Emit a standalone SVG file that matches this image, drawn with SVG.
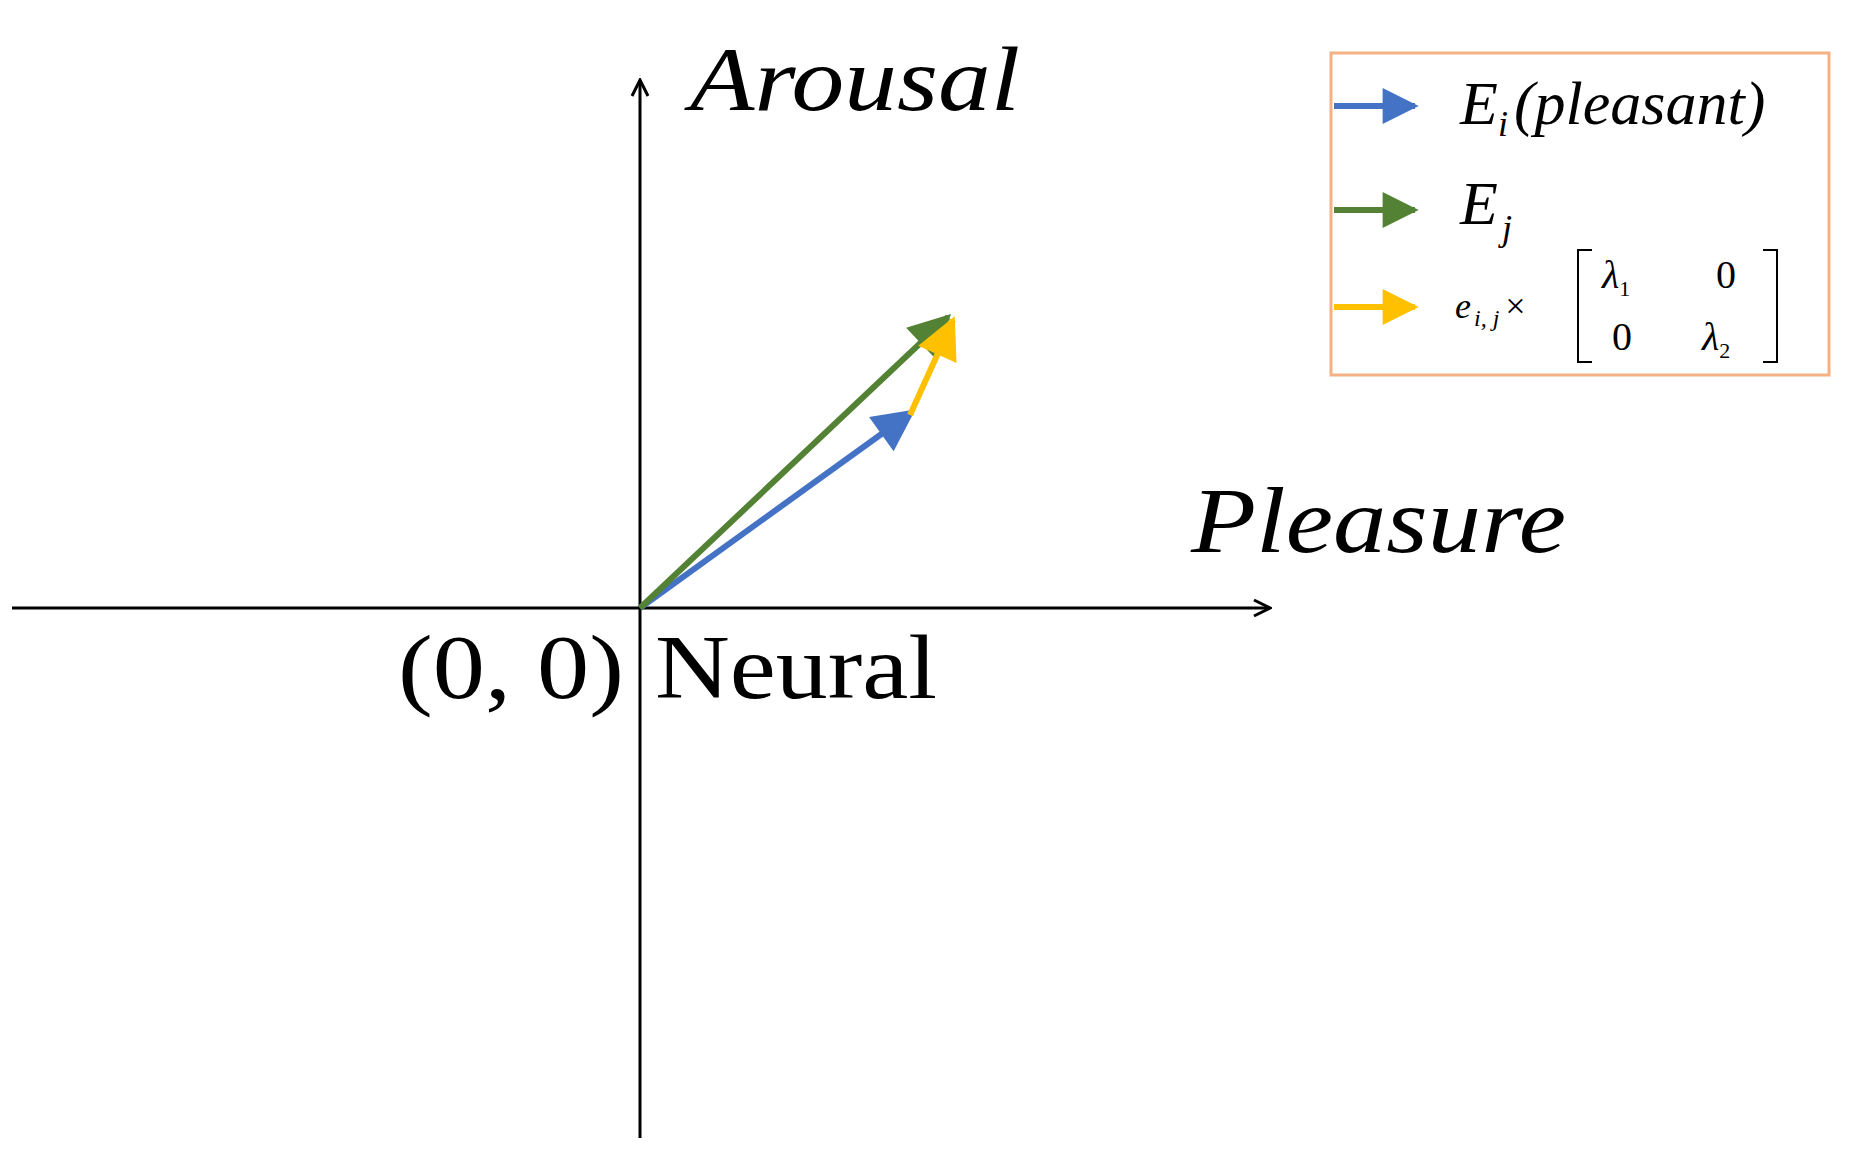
<svg xmlns="http://www.w3.org/2000/svg" width="1849" height="1160" viewBox="0 0 1849 1160">
<style>
.t{font-family:"Liberation Serif",serif;fill:#000}
.i{font-style:italic}
.ax{stroke:#000;stroke-width:3;fill:none}
</style>
<defs>
<marker id="open" viewBox="0 0 20 20" refX="18" refY="10" markerWidth="20" markerHeight="20" markerUnits="userSpaceOnUse" orient="auto"><path d="M2 2 L18 10 L2 18" fill="none" stroke="#000" stroke-width="3"/></marker>
<marker id="mb" viewBox="0 0 10 10" refX="9" refY="5" markerWidth="46" markerHeight="42" markerUnits="userSpaceOnUse" orient="auto"><path d="M0 0 L10 5 L0 10Z" fill="#4472C4"/></marker>
<marker id="mg" viewBox="0 0 10 10" refX="9" refY="5" markerWidth="46" markerHeight="42" markerUnits="userSpaceOnUse" orient="auto"><path d="M0 0 L10 5 L0 10Z" fill="#548235"/></marker>
<marker id="my" viewBox="0 0 10 10" refX="9" refY="5" markerWidth="46" markerHeight="42" markerUnits="userSpaceOnUse" orient="auto"><path d="M0 0 L10 5 L0 10Z" fill="#FFC000"/></marker>
<marker id="lb" viewBox="0 0 10 10" refX="9" refY="5" markerWidth="38" markerHeight="36" markerUnits="userSpaceOnUse" orient="auto"><path d="M0 0 L10 5 L0 10Z" fill="#4472C4"/></marker>
<marker id="lg" viewBox="0 0 10 10" refX="9" refY="5" markerWidth="38" markerHeight="36" markerUnits="userSpaceOnUse" orient="auto"><path d="M0 0 L10 5 L0 10Z" fill="#548235"/></marker>
<marker id="ly" viewBox="0 0 10 10" refX="9" refY="5" markerWidth="38" markerHeight="36" markerUnits="userSpaceOnUse" orient="auto"><path d="M0 0 L10 5 L0 10Z" fill="#FFC000"/></marker>
</defs>
<rect width="1849" height="1160" fill="#fff"/>
<g id="axes">
<line class="ax" x1="640" y1="1138" x2="640" y2="80" marker-end="url(#open)"/>
<line class="ax" x1="12" y1="608" x2="1270" y2="608" marker-end="url(#open)"/>
</g>
<g id="connectors">
<line x1="640" y1="608" x2="912" y2="412" stroke="#4472C4" stroke-width="6" marker-end="url(#mb)"/>
<line x1="640" y1="608" x2="948" y2="317" stroke="#548235" stroke-width="6" marker-end="url(#mg)"/>
<line x1="910" y1="415" x2="953" y2="320" stroke="#FFC000" stroke-width="6" marker-end="url(#my)"/>
</g>
<g id="labels">
<text class="t i" x="690" y="110" font-size="90" textLength="330" lengthAdjust="spacingAndGlyphs">Arousal</text>
<text class="t i" x="1191" y="552" font-size="94" textLength="375" lengthAdjust="spacingAndGlyphs">Pleasure</text>
<text class="t" x="398" y="698" font-size="90" textLength="226" lengthAdjust="spacingAndGlyphs">(0, 0)</text>
<text class="t" x="655" y="698" font-size="90" textLength="282" lengthAdjust="spacingAndGlyphs">Neural</text>
</g>
<g id="legend">
<rect x="1331" y="53" width="498" height="322" fill="#fff" stroke="#F4B183" stroke-width="3"/>
<line x1="1334" y1="106" x2="1415" y2="106" stroke="#4472C4" stroke-width="6" marker-end="url(#lb)"/>
<line x1="1334" y1="210" x2="1415" y2="210" stroke="#548235" stroke-width="6" marker-end="url(#lg)"/>
<line x1="1334" y1="307" x2="1415" y2="307" stroke="#FFC000" stroke-width="6" marker-end="url(#ly)"/>
<text class="t i" x="1460" y="124" font-size="62">E<tspan font-size="36" dy="12">i</tspan><tspan dy="-12" dx="6">(pleasant)</tspan></text>
<text class="t i" x="1460" y="224" font-size="62">E<tspan font-size="36" dy="16" dx="4">j</tspan></text>
<text class="t" x="1455" y="318" font-size="36"><tspan class="i">e</tspan><tspan class="i" font-size="24" dy="8" dx="3">i, j</tspan><tspan dy="-8" dx="6">×</tspan></text>
<path d="M1592 250 H1578 V362 H1592 M1763 250 H1777 V362 H1763" fill="none" stroke="#000" stroke-width="2"/>
<text class="t" font-size="40" x="1602" y="288"><tspan class="i">λ</tspan><tspan font-size="22" dy="8">1</tspan></text>
<text class="t" font-size="40" x="1716" y="288">0</text>
<text class="t" font-size="40" x="1612" y="350">0</text>
<text class="t" font-size="40" x="1702" y="350"><tspan class="i">λ</tspan><tspan font-size="22" dy="8">2</tspan></text>
</g>
</svg>
